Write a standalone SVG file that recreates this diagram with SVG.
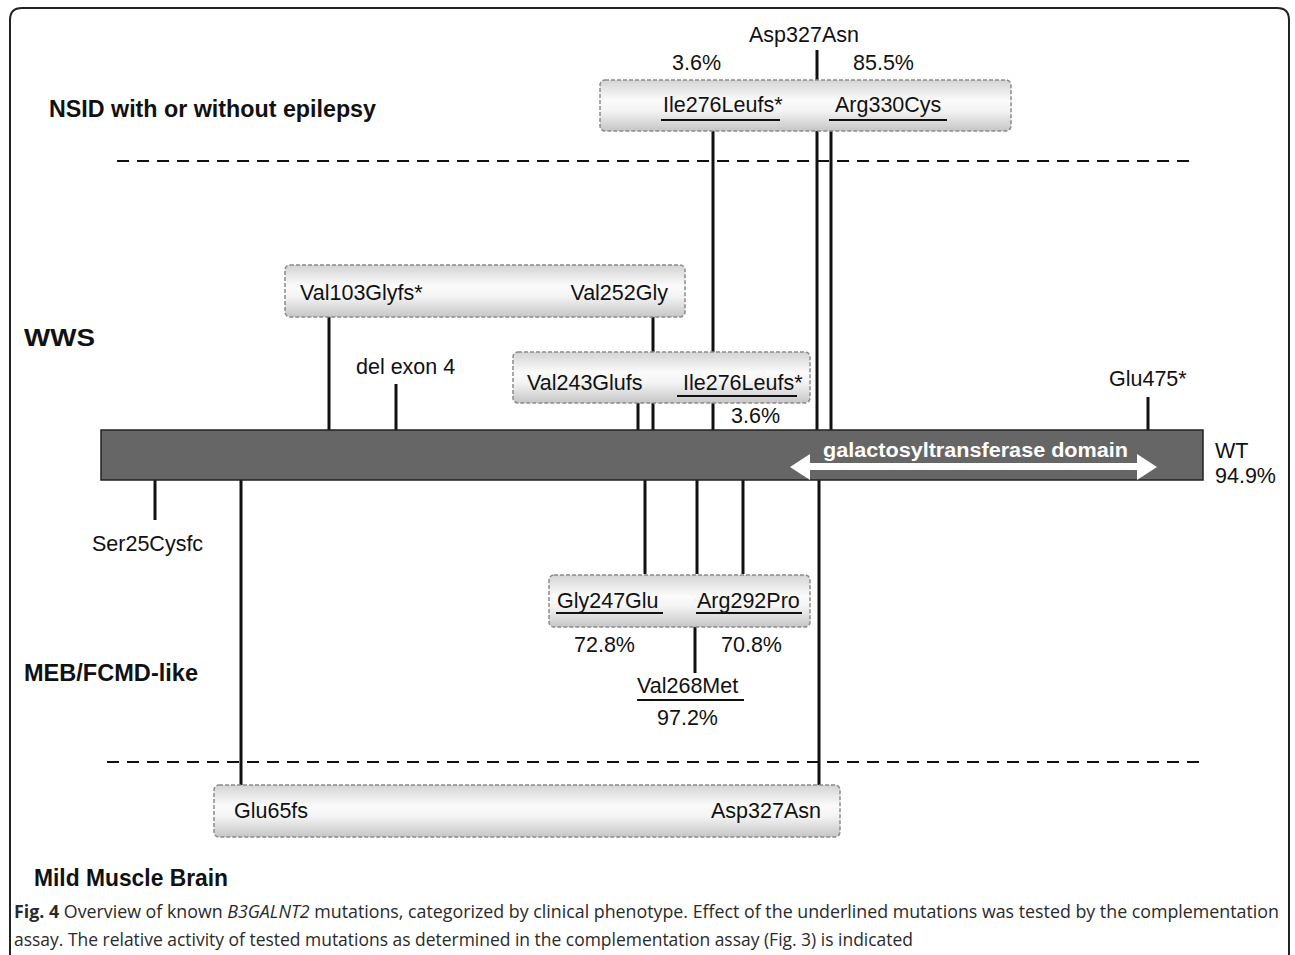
<svg xmlns="http://www.w3.org/2000/svg" width="1295" height="955" viewBox="0 0 1295 955">
<defs>
<linearGradient id="boxg" x1="0" y1="0" x2="0" y2="1">
<stop offset="0" stop-color="#d4d4d4"/>
<stop offset="0.4" stop-color="#fbfbfb"/>
<stop offset="0.6" stop-color="#f4f4f4"/>
<stop offset="1" stop-color="#c6c6c6"/>
</linearGradient>
<style>
.lbl{font-family:"Liberation Sans",Arial,sans-serif;font-size:21.5px;fill:#111}
.hdr{font-family:"Liberation Sans",Arial,sans-serif;font-size:23px;font-weight:bold;fill:#111}
.box{fill:url(#boxg);stroke:#8a8a8a;stroke-width:1.5;stroke-dasharray:4 2}
.ln{stroke:#111;stroke-width:3;fill:none}
.ul{stroke:#111;stroke-width:2}
.dash{stroke:#111;stroke-width:2;stroke-dasharray:12 8}
.cap{font-family:"Open Sans","Liberation Sans",sans-serif;font-size:18px;fill:#2a2a2a}
</style>
</defs>
<rect width="1295" height="955" fill="#fff"/>
<path d="M10,957 V20 Q10,8 22,8 H1277 Q1289,8 1289,20 V957" fill="none" stroke="#222" stroke-width="2"/>

<g id="headers">
<text class="hdr" x="49" y="117" textLength="327" lengthAdjust="spacingAndGlyphs">NSID with or without epilepsy</text>
<text class="hdr" x="24" y="346" textLength="71" lengthAdjust="spacingAndGlyphs">WWS</text>
<text class="hdr" x="24" y="681" textLength="174" lengthAdjust="spacingAndGlyphs">MEB/FCMD-like</text>
<text class="hdr" x="34" y="886" textLength="194" lengthAdjust="spacingAndGlyphs">Mild Muscle Brain</text>
</g>

<g id="separators">
<line class="dash" x1="117" y1="161" x2="1190" y2="161"/>
<line class="dash" x1="107" y1="762" x2="1200" y2="762"/>
</g>

<g id="connectors">
<line class="ln" x1="817" y1="50" x2="817" y2="80"/>
<line class="ln" x1="713" y1="131" x2="713" y2="352"/>
<line class="ln" x1="817" y1="131" x2="817" y2="430"/>
<line class="ln" x1="831" y1="131" x2="831" y2="430"/>
<line class="ln" x1="329" y1="317" x2="329" y2="430"/>
<line class="ln" x1="653" y1="317" x2="653" y2="352"/>
<line class="ln" x1="396" y1="384" x2="396" y2="430"/>
<line class="ln" x1="638" y1="403" x2="638" y2="430"/>
<line class="ln" x1="653" y1="403" x2="653" y2="430"/>
<line class="ln" x1="713" y1="403" x2="713" y2="430"/>
<line class="ln" x1="1148" y1="397" x2="1148" y2="430"/>
<line class="ln" x1="155" y1="480" x2="155" y2="520"/>
<line class="ln" x1="241" y1="480" x2="241" y2="785"/>
<line class="ln" x1="645" y1="480" x2="645" y2="574"/>
<line class="ln" x1="697" y1="480" x2="697" y2="574"/>
<line class="ln" x1="743" y1="480" x2="743" y2="574"/>
<line class="ln" x1="819" y1="480" x2="819" y2="785"/>
<line class="ln" x1="695" y1="626" x2="695" y2="673"/>
</g>

<g id="protein">
<rect x="101" y="430" width="1102" height="50" fill="#666" stroke="#222" stroke-width="1.5"/>
<polygon points="790,467 810,454 810,463 1137,463 1137,454 1157,467 1137,480 1137,470 810,470 810,480" fill="#fff"/>
<text x="823" y="457" textLength="305" lengthAdjust="spacingAndGlyphs" style="font-family:'Liberation Sans',Arial,sans-serif;font-size:20px;font-weight:bold;fill:#fff">galactosyltransferase domain</text>
<text class="lbl" x="1215" y="458">WT</text>
<text class="lbl" x="1215" y="483">94.9%</text>
</g>

<g id="nsid-box">
<rect class="box" x="600" y="80" width="411" height="51" rx="5"/>
<text class="lbl" x="749" y="42">Asp327Asn</text>
<text class="lbl" x="672" y="70">3.6%</text>
<text class="lbl" x="853" y="70">85.5%</text>
<text class="lbl" x="663" y="112">Ile276Leufs*</text>
<line class="ul" x1="661" y1="120" x2="780" y2="120"/>
<text class="lbl" x="835" y="112">Arg330Cys</text>
<line class="ul" x1="829" y1="120" x2="947" y2="120"/>
</g>

<g id="wws-box1">
<rect class="box" x="285" y="265" width="400" height="52" rx="5"/>
<text class="lbl" x="300" y="300">Val103Glyfs*</text>
<text class="lbl" x="668" y="300" text-anchor="end">Val252Gly</text>
</g>

<g id="del-exon4">
<text class="lbl" x="356" y="374">del exon 4</text>
</g>

<g id="wws-box2">
<rect class="box" x="513" y="352" width="297" height="51" rx="5"/>
<text class="lbl" x="527" y="390">Val243Glufs</text>
<text class="lbl" x="683" y="390">Ile276Leufs*</text>
<line class="ul" x1="677" y1="396" x2="797" y2="396"/>
<text class="lbl" x="731" y="423">3.6%</text>
</g>

<g id="glu475">
<text class="lbl" x="1109" y="386">Glu475*</text>
</g>

<g id="ser25">
<text class="lbl" x="92" y="551">Ser25Cysfc</text>
</g>

<g id="meb-box">
<rect class="box" x="549" y="575" width="261" height="52" rx="5"/>
<text class="lbl" x="557" y="608">Gly247Glu</text>
<line class="ul" x1="556" y1="613" x2="663" y2="613"/>
<text class="lbl" x="697" y="608">Arg292Pro</text>
<line class="ul" x1="696" y1="613" x2="802" y2="613"/>
<text class="lbl" x="574" y="652">72.8%</text>
<text class="lbl" x="721" y="652">70.8%</text>
</g>

<g id="val268">
<text class="lbl" x="637" y="693">Val268Met</text>
<line class="ul" x1="637" y1="700" x2="744" y2="700"/>
<text class="lbl" x="657" y="725">97.2%</text>
</g>

<g id="mild-box">
<rect class="box" x="214" y="785" width="626" height="52" rx="5"/>
<text class="lbl" x="234" y="818">Glu65fs</text>
<text class="lbl" x="821" y="818" text-anchor="end">Asp327Asn</text>
</g>

<g id="caption">
<text class="cap" x="14" y="918" textLength="1265" lengthAdjust="spacingAndGlyphs"><tspan font-weight="bold">Fig. 4</tspan> Overview of known <tspan font-style="italic">B3GALNT2</tspan> mutations, categorized by clinical phenotype. Effect of the underlined mutations was tested by the complementation</text>
<text class="cap" x="14" y="946" textLength="899" lengthAdjust="spacingAndGlyphs">assay. The relative activity of tested mutations as determined in the complementation assay (Fig. 3) is indicated</text>
</g>
</svg>
